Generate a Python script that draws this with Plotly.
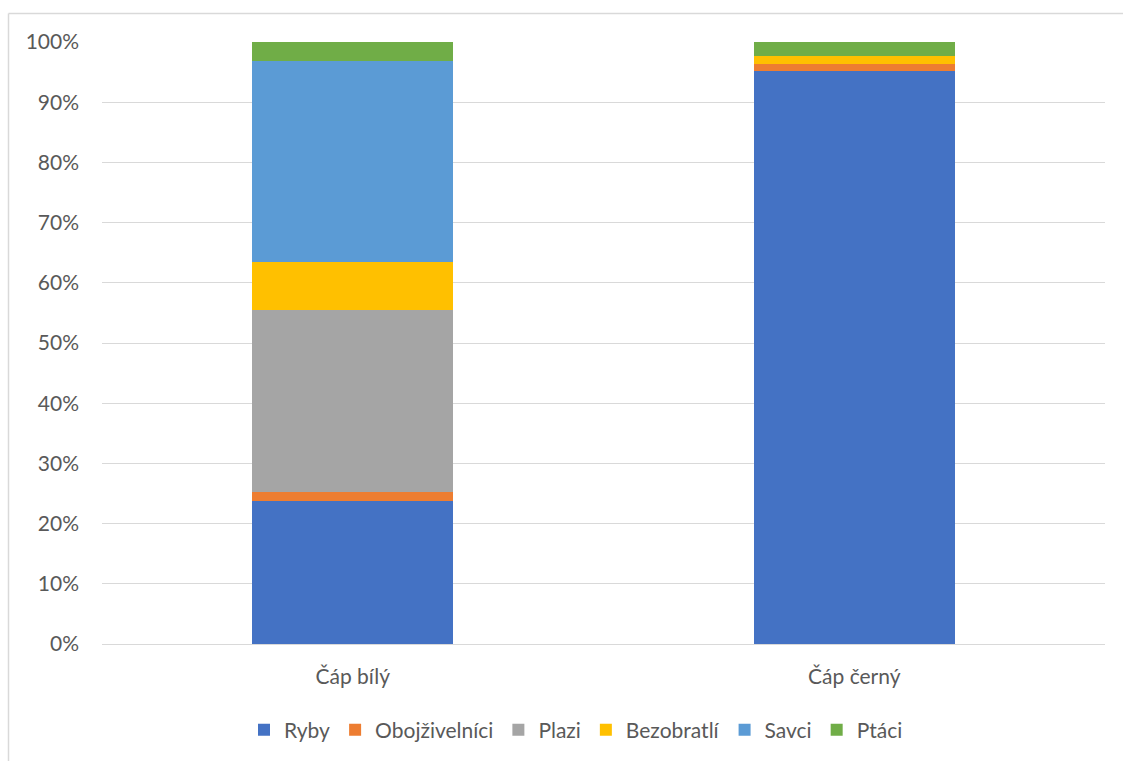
import plotly.graph_objects as go

categories = ["Čáp bílý", "Čáp černý"]
series_names = ["Ryby", "Obojživelníci", "Plazi", "Bezobratlí", "Savci", "Ptáci"]
ryby = [23.8, 95.2]
obojzivelnici = [1.4, 1.1]
plazi = [30.3, 0.0]
bezobratli = [7.9, 1.3]
savci = [33.45, 0.0]
ptaci = [3.15, 2.4]
colors = ["#4472C4", "#ED7D31", "#A5A5A5", "#FFC000", "#5B9BD5", "#70AD47"]
y_ticks = [0, 10, 20, 30, 40, 50, 60, 70, 80, 90, 100]
y_ticklabels = [f"{v}%" for v in y_ticks]

values = [ryby, obojzivelnici, plazi, bezobratli, savci, ptaci]

fig = go.Figure()
for name, vals, col in zip(series_names, values, colors):
    fig.add_trace(go.Bar(
        x=categories, y=vals, name=name,
        marker=dict(color=col, line=dict(width=0)),
    ))

L, R, T, B = 102, 18, 42, 116
PW = 1123 - L - R
PH = 761 - T - B

font_family = "Lato, 'Open Sans', sans-serif"
fig.update_layout(
    barmode="stack",
    bargap=0.6,
    width=1123, height=761,
    margin=dict(l=L, r=R, t=T, b=B),
    paper_bgcolor="white",
    plot_bgcolor="white",
    font=dict(family=font_family, size=21, color="#595959"),
    showlegend=True,
    legend=dict(
        orientation="h", x=(576 - L) / PW, xanchor="center",
        y=(645 - 730) / PH, yanchor="middle",
        font=dict(size=21, color="#595959"), traceorder="normal",
        itemwidth=30,
    ),
    xaxis=dict(
        showgrid=False, showline=False, zeroline=False,
        ticks="", ticklabelstandoff=18,
        tickfont=dict(size=21, color="#595959"),
    ),
    yaxis=dict(
        range=[0, 100], tickvals=y_ticks, ticktext=y_ticklabels,
        showgrid=True, gridcolor="#D9D9D9", gridwidth=1,
        zeroline=True, zerolinecolor="#D9D9D9", zerolinewidth=1,
        showline=False, ticks="", ticklabelstandoff=22,
        tickfont=dict(size=21, color="#595959"),
    ),
    shapes=[
        dict(type="line", xref="paper", yref="paper",
             x0=(8.5 - L) / PW, x1=(1130 - L) / PW,
             y0=(645 - 13.5) / PH, y1=(645 - 13.5) / PH,
             line=dict(color="#D9D9D9", width=1.5)),
        dict(type="line", xref="paper", yref="paper",
             x0=(8.5 - L) / PW, x1=(8.5 - L) / PW,
             y0=(645 - 13.5) / PH, y1=(645 - 770) / PH,
             line=dict(color="#D9D9D9", width=1.5)),
    ],
)

fig.write_html("out.html")
